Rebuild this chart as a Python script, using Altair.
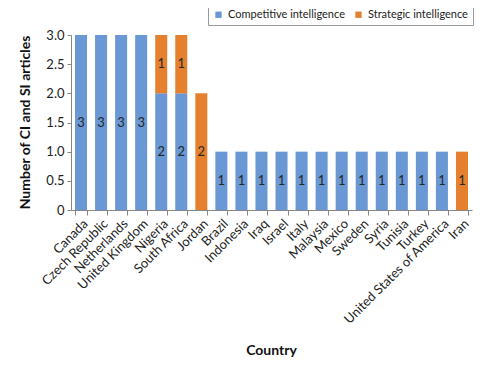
import altair as alt
import pandas as pd

countries = ["Canada", "Czech Republic", "Netherlands", "United Kingdom", "Nigeria",
             "South Africa", "Jordan", "Brazil", "Indonesia", "Iraq", "Israel", "Italy",
             "Malaysia", "Mexico", "Sweden", "Syria", "Tunisia", "Turkey",
             "United States of America", "Iran"]
ci_values = [3, 3, 3, 3, 2, 2, 0, 1, 1, 1, 1, 1, 1, 1, 1, 1, 1, 1, 1, 0]
si_values = [0, 0, 0, 0, 1, 1, 2, 0, 0, 0, 0, 0, 0, 0, 0, 0, 0, 0, 0, 1]
series = ["Competitive intelligence", "Strategic intelligence"]
colors = ["#6A98D4", "#E5812E"]
y_ticks = [0, 0.5, 1.0, 1.5, 2.0, 2.5, 3.0]

rows = []
for c, a, b in zip(countries, ci_values, si_values):
    rows.append({"country": c, "series": series[0], "value": a, "order": 0})
    rows.append({"country": c, "series": series[1], "value": b, "order": 1})
df = pd.DataFrame(rows)

FONT = "Lato"
AXIS_GREY = "#868686"

base = (
    alt.Chart(df)
    .transform_filter("datum.value > 0")
    .transform_stack(stack="value", groupby=["country"], as_=["v0", "v1"],
                     sort=[alt.SortField("order", order="ascending")])
    .transform_calculate(mid="(datum.v0 + datum.v1) / 2")
)

x_scale = alt.Scale(paddingInner=0.4, paddingOuter=0.2)
x_axis = alt.Axis(title="Country", labelAngle=-45, tickBand="extent",
                  labelFont=FONT, labelFontSize=13, labelColor="#222222",
                  labelPadding=2, tickSize=5, tickColor=AXIS_GREY,
                  domainColor=AXIS_GREY, titleFont=FONT, titleFontSize=14,
                  titleFontWeight="bold", titleColor="#111111",
                  titleX=200, titleY=140, titleBaseline="middle")

y_scale = alt.Scale(domain=[0, 3], nice=False)
y_axis = alt.Axis(title="Number of CI and SI articles", values=y_ticks,
                  labelExpr="datum.value == 0 ? '0' : format(datum.value, '.1f')",
                  labelOverlap=False,
                  grid=False, labelFont=FONT, labelFontSize=13,
                  labelColor="#222222", labelPadding=3, tickSize=4,
                  tickColor=AXIS_GREY, domainColor=AXIS_GREY,
                  titleFont=FONT, titleFontSize=14, titleFontWeight="bold",
                  titleColor="#111111", titleAngle=-90, titleX=-46,
                  titleY=87, titleAlign="center", titleBaseline="middle")

bars = base.mark_bar().encode(
    x=alt.X("country:N", sort=countries, scale=x_scale, axis=x_axis),
    y=alt.Y("v0:Q", scale=y_scale, axis=y_axis),
    y2="v1:Q",
    color=alt.Color("series:N", scale=alt.Scale(domain=series, range=colors),
                    legend=alt.Legend(title=None, orient="none", legendX=137,
                                      legendY=-31, direction="horizontal",
                                      symbolType="square", symbolSize=40,
                                      symbolStrokeWidth=0,
                                      labelFont=FONT, labelFontSize=11,
                                      labelColor="#222222", strokeColor="#9a9a9a",
                                      padding=5, columnPadding=8)),
)

labels = base.mark_text(font=FONT, fontSize=13, color="#262626").encode(
    x=alt.X("country:N", sort=countries, scale=x_scale, axis=x_axis),
    y=alt.Y("mid:Q", scale=y_scale, axis=y_axis),
    text=alt.Text("value:Q"),
)

chart = (
    alt.layer(bars, labels)
    .properties(width=401, height=175,
                autosize=alt.AutoSizeParams(type="none"),
                padding={"left": 63, "top": 27, "right": 2, "bottom": 160})
    .configure_view(stroke=None)
)

chart.save("out.html", embed_options={"renderer": "svg", "actions": False})
